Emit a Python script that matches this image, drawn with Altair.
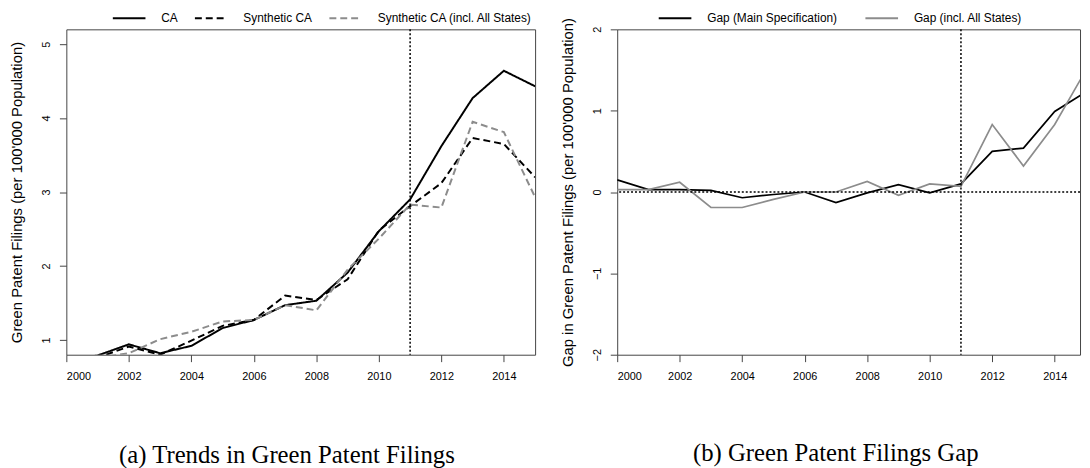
import pandas as pd
import altair as alt

# values
years = list(range(2000, 2016))
ca = [0.72, 0.79, 0.94, 0.82, 0.92, 1.16, 1.27, 1.47, 1.53, 1.91, 2.47, 2.90, 3.62, 4.27, 4.64, 4.43]
synthetic_ca = [0.57, 0.76, 0.91, 0.80, 0.99, 1.19, 1.27, 1.60, 1.54, 1.82, 2.48, 2.81, 3.12, 3.73, 3.65, 3.20]
synthetic_ca_all = [0.69, 0.76, 0.82, 1.01, 1.11, 1.25, 1.27, 1.47, 1.40, 1.95, 2.37, 2.83, 2.79, 3.95, 3.81, 2.93]
gap_main = [0.15, 0.03, 0.03, 0.02, -0.07, -0.03, 0.00, -0.13, -0.01, 0.09, -0.01, 0.10, 0.50, 0.54, 0.99, 1.23]
gap_all = [0.03, 0.03, 0.12, -0.19, -0.19, -0.09, 0.00, 0.00, 0.13, -0.04, 0.10, 0.07, 0.83, 0.32, 0.83, 1.50]
treatment_year = [2011]
zero_line = [0]

left_series = ["CA", "Synthetic CA", "Synthetic CA (incl. All States)"]
right_series = ["Gap (Main Specification)", "Gap (incl. All States)"]
x_ticks = list(range(2000, 2015, 2))

trends = pd.DataFrame({
    "year": years * 3,
    "value": ca + synthetic_ca + synthetic_ca_all,
    "series": [s for s in left_series for _ in years],
})
gaps = pd.DataFrame({
    "year": years * 2,
    "value": gap_main + gap_all,
    "series": [s for s in right_series for _ in years],
})

GREY = "#8c8c8c"


def x_enc(domain):
    return alt.X("year:Q",
                 scale=alt.Scale(domain=domain, nice=False, zero=False),
                 axis=alt.Axis(values=x_ticks, format="d", title=None, labelPadding=9))


# flat stroke symbol: 33px long line in a short legend row
def legend(pad, x):
    return alt.Legend(title=None, orient="none", direction="horizontal",
                      legendX=x, legendY=-18, symbolType="M-1,0H5",
                      symbolSize=121, symbolStrokeWidth=2,
                      labelOffset=37, columnPadding=pad,
                      labelFontSize=12, labelFont="Liberation Sans")


# (a) trends
lg_a = legend(13, 46)
lines_a = alt.Chart(trends).mark_line(strokeWidth=2, clip=True).encode(
    x=x_enc([2000, 2015]),
    y=alt.Y("value:Q", scale=alt.Scale(domain=[0.8, 5.2], nice=False, zero=False),
            axis=alt.Axis(values=[1, 2, 3, 4, 5], format="d", labelAngle=270, labelPadding=8,
                          title="Green Patent Filings (per 100'000 Population)",
                          titlePadding=16)),
    color=alt.Color("series:N", sort=left_series,
                    scale=alt.Scale(domain=left_series, range=["black", "black", GREY]),
                    legend=lg_a),
    strokeDash=alt.StrokeDash("series:N", sort=left_series,
                              scale=alt.Scale(domain=left_series, range=[[1, 0], [7, 4], [7, 4]]),
                              legend=lg_a),
)
vline_a = alt.Chart(pd.DataFrame({"year": treatment_year})).mark_rule(
    color="black", strokeDash=[2, 2], strokeWidth=1.5).encode(x="year:Q")

panel_a = alt.layer(lines_a, vline_a).properties(
    width=474, height=329,
    title=alt.TitleParams("(a) Trends in Green Patent Filings", orient="bottom",
                          anchor="middle", offset=62, dx=-14),
)

# (b) gap
lg_b = legend(24, 41)
lines_b = alt.Chart(gaps).mark_line(strokeWidth=1.7, clip=True).encode(
    x=x_enc([2000, 2014.81]),
    y=alt.Y("value:Q", scale=alt.Scale(domain=[-2, 2], nice=False, zero=False),
            axis=alt.Axis(values=[-2, -1, 0, 1, 2], format="d", labelAngle=270, labelPadding=8,
                          title="Gap in Green Patent Filings (per 100'000 Population)",
                          titlePadding=16)),
    color=alt.Color("series:N", sort=right_series,
                    scale=alt.Scale(domain=right_series, range=["black", GREY]),
                    legend=lg_b),
)
vline_b = alt.Chart(pd.DataFrame({"year": treatment_year})).mark_rule(
    color="black", strokeDash=[2, 2], strokeWidth=1.5).encode(x="year:Q")
hline_b = alt.Chart(pd.DataFrame({"value": zero_line})).mark_rule(
    color="black", strokeDash=[2, 2], strokeWidth=1.5).encode(y="value:Q")

panel_b = alt.layer(lines_b, vline_b, hline_b).properties(
    width=468, height=329,
    title=alt.TitleParams("(b) Green Patent Filings Gap", orient="bottom",
                          anchor="middle", offset=60, dx=-13),
)

chart = alt.hconcat(panel_a, panel_b, spacing=83, bounds="flush").resolve_scale(
    x="independent", y="independent", color="independent", strokeDash="independent"
).properties(
    padding={"left": 1, "top": 0, "right": 0, "bottom": 0}
).configure_view(
    stroke="#444", strokeWidth=1
).configure_axis(
    grid=False, domain=False, tickColor="#444", tickSize=7,
    labelFont="Liberation Sans", labelFontSize=11, labelColor="black",
    titleFont="Liberation Sans", titleFontSize=15, titleFontWeight="normal", titleColor="black",
).configure_title(
    font="Liberation Serif", fontSize=25, fontWeight="normal", color="black"
)

chart.save("out.html", embed_options={"renderer": "svg", "actions": False})
